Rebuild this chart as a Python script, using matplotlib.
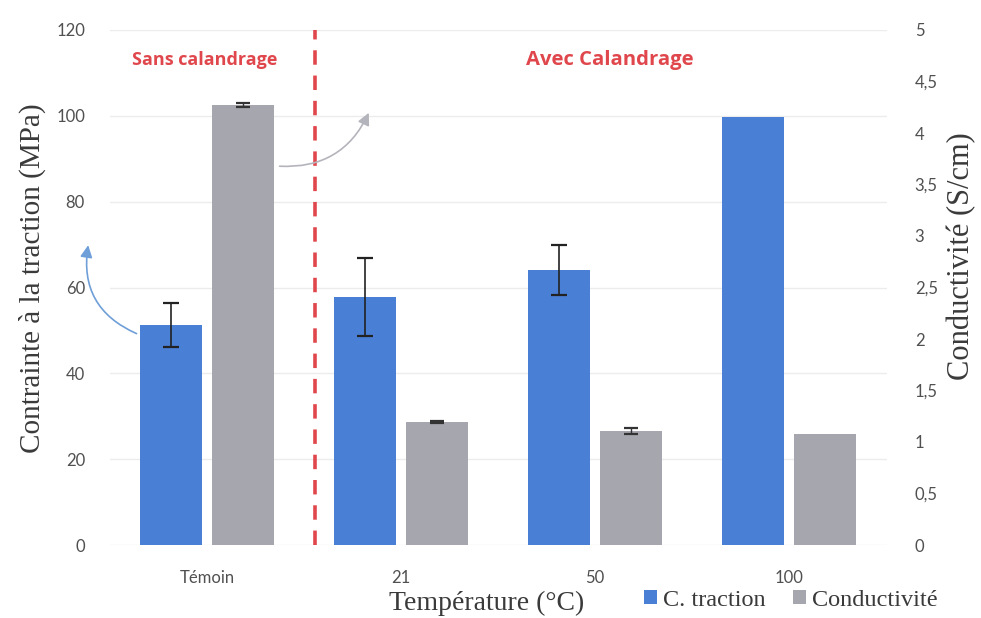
import matplotlib
matplotlib.use("Agg")
import matplotlib.pyplot as plt
import numpy as np
from matplotlib.patches import FancyArrowPatch, Patch

# data
CATEGORIES = ["Témoin", "21", "50", "100"]
TRACTION = [51.3, 57.8, 64.1, 99.8]          # MPa
TRACTION_ERR = [5.2, 9.0, 5.8, 0.0]
CONDUCTIVITY = [4.27, 1.19, 1.11, 1.08]      # S/cm
CONDUCTIVITY_ERR = [0.02, 0.01, 0.03, 0.0]

BLUE = "#4a7fd6"
GREY = "#a6a6ae"
RED = "#e0474c"
TICK_FONT = "Lato"
SERIF = "Liberation Serif"
LABEL_COLOR = "#3a3a3a"

fig = plt.figure(figsize=(9.81, 6.18), dpi=100)
ax = fig.add_axes([110 / 981, 1 - 545 / 618, 777 / 981, 515 / 618])
ax2 = ax.twinx()

x = np.arange(len(CATEGORIES), dtype=float)
offset, width = 0.186, 0.32

ax.bar(x - offset, TRACTION, width, color=BLUE, zorder=2)
ax.errorbar(x[:3] - offset, TRACTION[:3], yerr=TRACTION_ERR[:3], fmt="none",
            ecolor="#222222", elinewidth=1.2, capsize=6, capthick=1.6, zorder=3)
ax2.bar(x + offset, CONDUCTIVITY, width, color=GREY, zorder=2)
ax2.errorbar(x[:3] + offset, CONDUCTIVITY[:3], yerr=CONDUCTIVITY_ERR[:3], fmt="none",
             ecolor="#333333", elinewidth=1.0, capsize=5, capthick=1.6, zorder=3)

ax.set_xlim(-0.5, 3.505)
ax.set_ylim(0, 120)
ax2.set_ylim(0, 5)
ax.set_yticks(np.arange(0, 121, 20))
ax2.set_yticks(np.arange(0, 5.01, 0.5))
ax2.set_yticklabels([f"{v:g}".replace(".", ",") for v in np.arange(0, 5.01, 0.5)])
ax.set_xticks(x)
ax.set_xticklabels(CATEGORIES)

for a in (ax, ax2):
    for s in a.spines.values():
        s.set_visible(False)
    a.tick_params(length=0, labelsize=12, colors="#505050")
    for lab in a.get_yticklabels() + a.get_xticklabels():
        lab.set_fontfamily(TICK_FONT)
ax.tick_params(axis="y", pad=18)
ax2.tick_params(axis="y", pad=20)
ax.tick_params(axis="x", pad=18)
ax.yaxis.grid(True, color="#ececec", linewidth=1.0, zorder=0)
ax.set_axisbelow(True)

# axis titles placed directly so they sit where the reference has them
fig.text(32 / 981, 1 - 278 / 618, "Contrainte à la traction (MPa)", family=SERIF,
         fontsize=21, color=LABEL_COLOR, rotation=90, ha="center", va="center")
fig.text(962 / 981, 1 - 256 / 618, "Conductivité (S/cm)", family=SERIF,
         fontsize=22, color=LABEL_COLOR, rotation=90, ha="center", va="center")

# separator and section titles
ax.axvline(0.557, color=RED, linewidth=2.6, linestyle=(0, (4, 3)), zorder=4)
ax.text(-0.01, 113, "Sans calandrage", color=RED, fontsize=13, fontweight="bold",
        family="Open Sans", ha="center", va="center")
ax.text(2.077, 113, "Avec Calandrage", color=RED, fontsize=14.6, fontweight="bold",
        family="Open Sans", ha="center", va="center")

# curved arrows pointing at each axis
ax.add_patch(FancyArrowPatch((-0.35, 49.0), (-0.61, 70.5),
                             connectionstyle="arc3,rad=-0.4", arrowstyle="-|>",
                             mutation_scale=18, color="#6f9fd8", linewidth=1.2,
                             clip_on=False, zorder=5))
ax.add_patch(FancyArrowPatch((0.36, 88.3), (0.84, 101.3),
                             connectionstyle="arc3,rad=0.35", arrowstyle="-|>",
                             mutation_scale=18, color="#b4b4bc", linewidth=1.2,
                             clip_on=False, zorder=5))

fig.text(487 / 981, 1 - 603 / 618, "Température (°C)", family=SERIF, fontsize=20,
         color=LABEL_COLOR, ha="center", va="center")
handles = [Patch(facecolor=BLUE, label="C. traction"),
           Patch(facecolor=GREY, label="Conductivité")]
fig.legend(handles=handles, loc="center left", bbox_to_anchor=(622 / 981, 1 - 600 / 618),
           ncol=2, frameon=False, handlelength=0.55, handleheight=0.55, handletextpad=0.25,
           columnspacing=1.1, prop={"family": SERIF, "size": 17.5}, labelcolor=LABEL_COLOR)

fig.savefig("out.png", dpi=100)
